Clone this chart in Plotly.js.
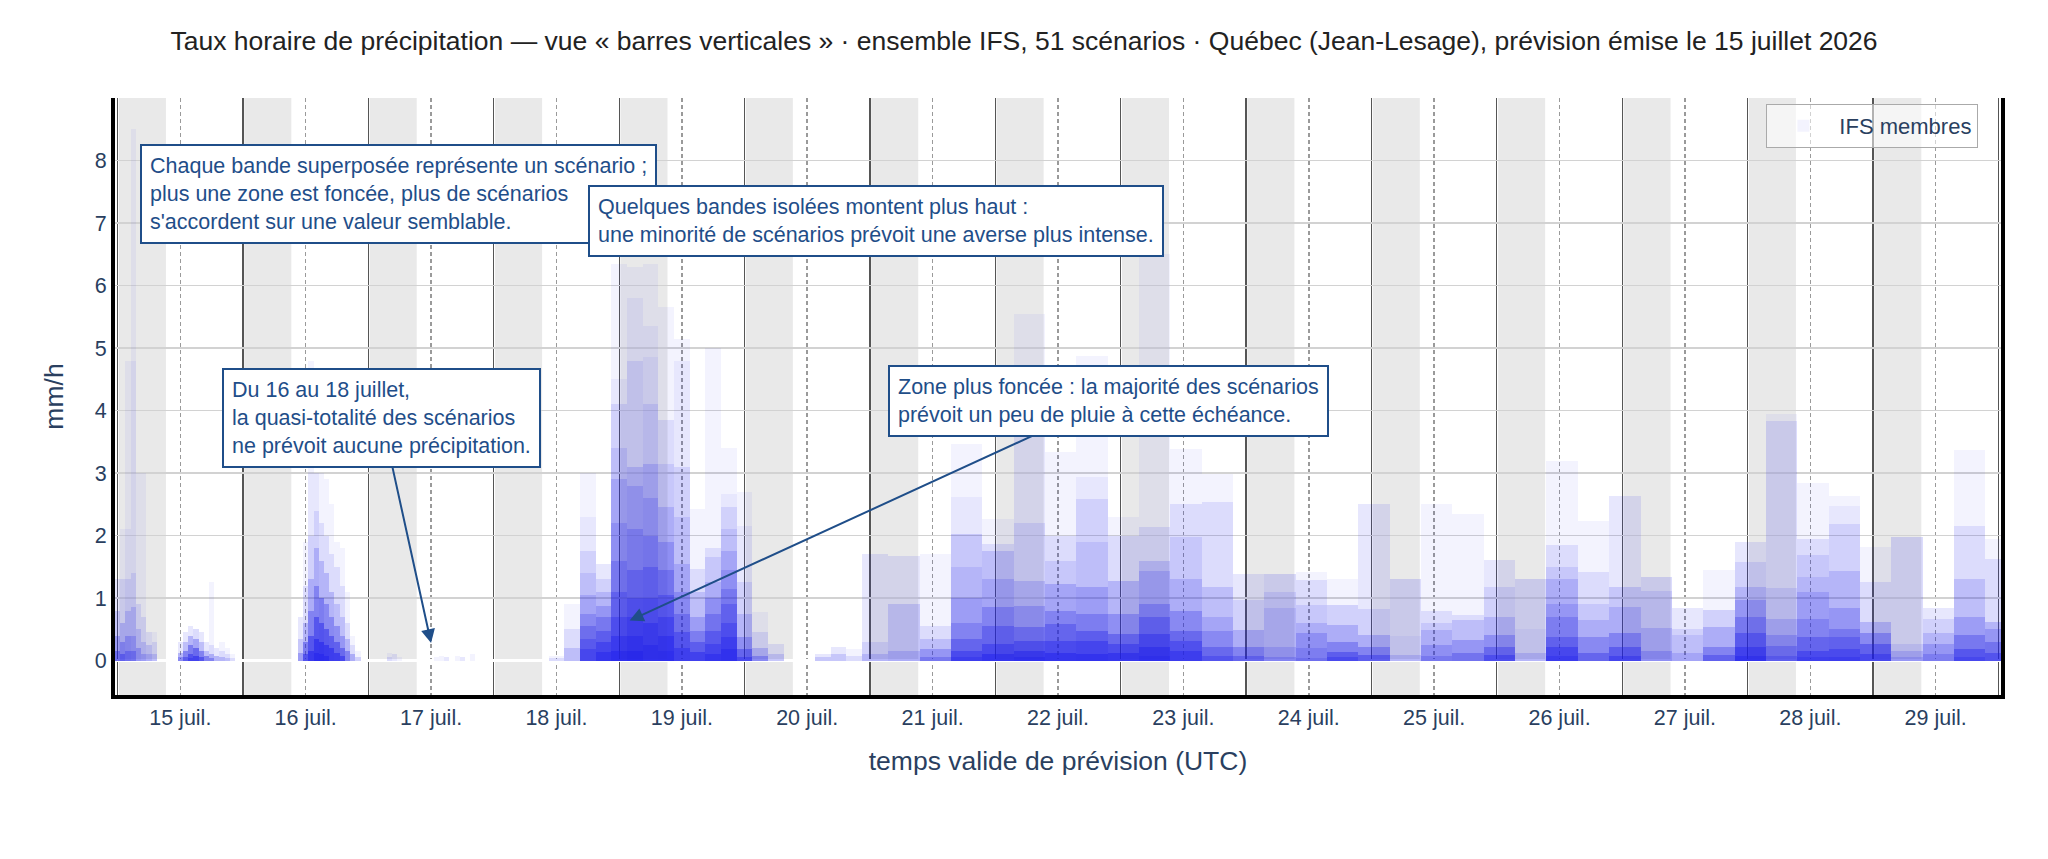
<!DOCTYPE html>
<html>
<head>
<meta charset="utf-8">
<script src="https://cdn.plot.ly/plotly-3.0.1.min.js"></script>
<style>
  html, body { margin: 0; padding: 0; background: #fff; }
  #chart { width: 2048px; height: 859px; }
</style>
</head>
<body>
<div id="chart"></div>
<script>
// forecast issued 15 juillet 2026 00 UTC, 51 IFS members
const ISSUE = Date.UTC(2026, 6, 15, 0, 0, 0);
const HOUR = 3600 * 1000;
const N_MEMBERS = 51;

// hourly steps (hours after issue) that carry rain
// each entry: list of [mm/h, number of scenarios at that value], highest first
const hourSteps = [0, 1, 2, 3, 4, 5, 6, 7,
  12, 13, 14, 15, 16, 17, 18, 19, 20, 21, 22,
  35, 36, 37, 38, 39, 40, 41, 42, 43, 44, 45, 46,
  52, 53, 54, 61, 62, 63, 65, 66, 68];
const hourLevels = [
  [[1.3,2],[0.8,3],[0.4,5],[0.15,8]],
  [[2.1,1],[1.3,2],[0.6,4],[0.3,6],[0.1,8]],
  [[4.8,1],[2.1,1],[1.3,2],[0.8,3],[0.4,5],[0.15,6]],
  [[8.5,1],[4.8,1],[1.4,2],[0.85,3],[0.4,4],[0.15,6]],
  [[3.0,1],[0.9,2],[0.5,3],[0.2,5]],
  [[3.0,1],[0.7,2],[0.3,3],[0.1,4]],
  [[0.45,2],[0.25,3],[0.1,3]],
  [[0.45,1],[0.3,2],[0.1,3]],
  [[0.3,2],[0.12,5],[0.05,6]],
  [[0.45,2],[0.3,4],[0.15,8],[0.05,8]],
  [[0.55,2],[0.4,5],[0.25,8],[0.1,10],[0.04,6]],
  [[0.5,3],[0.35,6],[0.2,10],[0.08,12]],
  [[0.45,2],[0.3,4],[0.15,8],[0.06,10]],
  [[0.3,2],[0.15,4],[0.07,8]],
  [[1.26,1],[0.25,2],[0.1,5],[0.04,6]],
  [[0.2,2],[0.08,5]],
  [[0.3,1],[0.15,2],[0.05,4]],
  [[0.2,1],[0.1,2],[0.04,3]],
  [[0.1,1],[0.04,2]],
  [[0.7,2],[0.35,3],[0.12,5]],
  [[1.9,1],[1.2,2],[0.6,4],[0.3,8],[0.1,10]],
  [[4.8,1],[3.0,1],[2.0,2],[1.3,4],[0.8,6],[0.4,10],[0.15,12]],
  [[3.0,2],[2.4,2],[1.8,4],[1.2,6],[0.7,10],[0.35,12],[0.12,10]],
  [[3.0,1],[2.2,2],[1.6,4],[1.0,8],[0.6,10],[0.3,12],[0.1,10]],
  [[2.9,1],[2.0,2],[1.4,4],[0.9,6],[0.5,10],[0.25,12],[0.08,10]],
  [[2.5,1],[1.7,2],[1.1,4],[0.7,6],[0.4,9],[0.2,12]],
  [[1.9,1],[1.5,2],[0.9,3],[0.55,6],[0.3,9],[0.12,12]],
  [[1.8,1],[1.2,2],[0.7,3],[0.4,5],[0.2,8],[0.08,10]],
  [[1.1,1],[0.6,2],[0.35,4],[0.15,7]],
  [[0.4,1],[0.25,2],[0.1,5]],
  [[0.15,1],[0.06,3]],
  [[0.12,1],[0.05,2]],
  [[0.1,2]],
  [[0.05,1]],
  [[0.05,1]],
  [[0.08,1]],
  [[0.06,2]],
  [[0.08,1]],
  [[0.05,2]],
  [[0.1,1]]
];

// coarser steps (3 h, then 6 h): edges in hours after issue
const stepEdges = [82.5, 85.5, 88.5, 91.5, 94.5, 97.5, 100.5, 103.5, 106.5, 109.5,
  112.5, 115.5, 118.5, 121.5, 124.5, 127.5, 130.5, 133.5, 136.5, 139.5, 142.5,
  147.5, 153.5, 159.5, 165.5, 171.5, 177.5, 183.5, 189.5, 195.5, 201.5, 207.5,
  213.5, 219.5, 225.5, 231.5, 237.5, 243.5, 249.5, 255.5, 261.5, 267.5, 273.5,
  279.5, 285.5, 291.5, 297.5, 303.5, 309.5, 315.5, 321.5, 327.5, 333.5, 339.5,
  345.5, 351.5, 357.5, 360.5];
const stepLevels = [
  [[0.08,1],[0.04,2]],
  [[0.9,1],[0.5,2],[0.2,3]],
  [[3.0,1],[2.3,1],[1.75,2],[1.4,2],[1.05,3],[0.75,4],[0.55,5],[0.35,5],[0.18,6]],
  [[1.55,2],[1.3,2],[1.1,3],[0.88,4],[0.7,5],[0.48,6],[0.3,8],[0.13,8]],
  [[6.35,1],[4.5,1],[4.1,2],[3.4,2],[2.9,3],[2.2,3],[1.6,4],[1.1,5],[0.7,6],[0.4,8],[0.15,10]],
  [[6.3,1],[5.8,1],[4.8,2],[3.1,3],[2.8,3],[2.1,4],[1.45,5],[1.0,6],[0.7,7],[0.4,8],[0.15,9]],
  [[6.35,1],[5.35,1],[4.85,1],[4.1,2],[3.15,3],[2.6,3],[2.0,4],[1.5,5],[1.0,6],[0.6,8],[0.25,9]],
  [[5.65,1],[3.85,2],[3.15,2],[2.45,3],[1.9,4],[1.45,5],[1.05,6],[0.7,7],[0.4,8],[0.15,6]],
  [[5.15,1],[4.8,1],[3.1,2],[2.3,2],[1.55,3],[1.1,4],[0.75,5],[0.45,7],[0.2,8]],
  [[2.43,1],[1.47,2],[1.1,3],[0.7,4],[0.48,5],[0.3,7],[0.13,10]],
  [[5.0,1],[1.8,2],[1.65,2],[1.25,3],[1.0,4],[0.75,5],[0.48,6],[0.27,7],[0.1,8]],
  [[3.4,1],[2.67,1],[2.45,2],[2.1,2],[1.75,3],[1.45,3],[1.15,4],[0.9,5],[0.6,6],[0.37,7],[0.18,8]],
  [[2.7,1],[2.15,1],[1.25,2],[0.75,3],[0.37,5],[0.18,8],[0.06,8]],
  [[0.77,1],[0.45,2],[0.2,4],[0.08,6]],
  [[0.27,2],[0.1,3]],
  [],
  [],
  [[0.11,2],[0.05,3]],
  [[0.21,2],[0.1,3]],
  [[0.19,1],[0.08,2]],
  [[1.71,2],[0.3,2],[0.1,3]],
  // 6 h steps from 21 juil.
  [[1.68,2],[0.9,3],[0.15,3]],
  [[1.71,1],[0.55,2],[0.35,3],[0.18,5],[0.06,5]],
  [[3.47,1],[2.62,1],[2.03,3],[1.5,2],[1.0,3],[0.6,4],[0.35,6],[0.16,8],[0.05,6]],
  [[2.27,1],[1.87,2],[1.75,3],[1.3,3],[0.85,5],[0.55,6],[0.27,8],[0.1,10]],
  [[5.55,1],[3.8,1],[2.2,2],[1.28,3],[0.88,4],[0.53,6],[0.32,8],[0.16,10],[0.05,8]],
  [[3.33,1],[2.0,2],[1.6,2],[1.23,4],[0.8,5],[0.59,6],[0.32,8],[0.12,10]],
  [[4.88,1],[2.93,1],[2.59,2],[1.9,2],[1.17,4],[0.75,5],[0.48,7],[0.32,8],[0.1,10]],
  [[2.29,1],[2.0,2],[1.28,4],[0.75,5],[0.43,7],[0.27,8],[0.12,10]],
  [[6.5,1],[2.13,2],[1.6,3],[1.44,3],[0.91,5],[0.69,6],[0.43,8],[0.21,9],[0.07,6]],
  [[3.39,1],[2.51,2],[1.97,2],[1.3,3],[0.8,5],[0.48,6],[0.32,7],[0.16,8]],
  [[2.99,1],[2.53,2],[1.17,3],[0.7,3],[0.48,4],[0.21,6],[0.08,6]],
  [[1.39,2],[0.97,2],[0.49,4],[0.22,6],[0.08,6]],
  [[1.38,3],[1.1,2],[0.84,2],[0.22,3],[0.06,4]],
  [[1.42,1],[1.29,2],[0.89,2],[0.6,3],[0.44,4],[0.2,3],[0.04,3]],
  [[1.31,1],[0.89,3],[0.57,4],[0.3,6],[0.14,8],[0.05,6]],
  [[2.5,2],[0.82,2],[0.41,4],[0.22,6],[0.09,8]],
  [[1.3,3],[0.4,1],[0.09,3]],
  [[2.51,1],[0.8,2],[0.6,2],[0.49,3],[0.25,4],[0.08,4]],
  [[2.35,1],[0.73,2],[0.65,3],[0.33,5],[0.12,6]],
  [[1.61,2],[1.17,2],[0.7,3],[0.41,5],[0.22,7],[0.09,8]],
  [[1.3,3],[0.5,1],[0.12,3]],
  [[3.19,1],[1.85,2],[1.5,2],[1.31,3],[0.9,3],[0.7,4],[0.38,6],[0.22,8],[0.08,6]],
  [[2.23,1],[1.41,2],[0.9,2],[0.65,3],[0.38,5],[0.12,7]],
  [[2.63,2],[1.18,3],[0.86,3],[0.44,6],[0.22,8],[0.08,8]],
  [[1.34,3],[1.12,2],[0.52,3],[0.16,4]],
  [[0.84,2],[0.5,2],[0.41,2],[0.12,3]],
  [[1.45,1],[0.81,3],[0.54,4],[0.22,6],[0.09,7]],
  [[1.9,2],[1.58,2],[1.18,3],[0.97,4],[0.7,5],[0.44,7],[0.22,9],[0.08,8]],
  [[3.94,1],[3.84,2],[1.16,2],[0.66,3],[0.41,4],[0.23,5],[0.08,5]],
  [[2.84,1],[1.94,2],[1.69,2],[1.34,2],[1.09,3],[0.66,4],[0.37,6],[0.16,8],[0.05,5]],
  [[2.64,1],[2.48,1],[2.18,2],[1.44,3],[0.84,4],[0.5,5],[0.37,5],[0.19,7],[0.06,6]],
  [[1.82,1],[1.26,2],[0.62,4],[0.44,6],[0.26,8],[0.1,8]],
  [[1.98,3],[0.26,2],[0.16,3],[0.05,3]],
  [[0.84,2],[0.66,2],[0.44,3],[0.26,4],[0.1,4]],
  [[3.37,1],[2.16,2],[1.3,3],[0.69,4],[0.41,6],[0.19,8],[0.06,5]],
  [[1.94,1],[1.62,2],[0.62,4],[0.51,4],[0.3,6],[0.12,8]]
];

// x axis labels, one per day (placed at 12 UTC)
const tickDays = [15, 16, 17, 18, 19, 20, 21, 22, 23, 24, 25, 26, 27, 28, 29];
const tickLabels = ['15 juil.', '16 juil.', '17 juil.', '18 juil.', '19 juil.', '20 juil.',
  '21 juil.', '22 juil.', '23 juil.', '24 juil.', '25 juil.', '26 juil.', '27 juil.',
  '28 juil.', '29 juil.'];
const yTicks = [0, 1, 2, 3, 4, 5, 6, 7, 8];

const MEMBER_COLOR = 'rgba(45,45,235,0.055)';
const NOTE_COLOR = '#1f4e89';
const FONT = 'Liberation Sans, Arial, sans-serif';

// hours after issue -> plotly date string
function t(h) {
  const d = new Date(ISSUE + h * HOUR);
  return d.toISOString().slice(0, 23).replace('T', ' ');
}
function dayHour(day, hour) {
  return (day - 15) * 24 + hour;
}

// expand [value, count] pairs into 51 member values, highest first
function expandLevels(levels) {
  const vals = [];
  levels.forEach(([v, n]) => { for (let i = 0; i < n; i++) vals.push(v); });
  while (vals.length < N_MEMBERS) vals.push(0);
  return vals.slice(0, N_MEMBERS);
}

const blocks = [];
hourSteps.forEach((h, i) => blocks.push({ from: h - 0.5, to: h + 0.5, levels: hourLevels[i] }));
for (let i = 0; i < stepEdges.length - 1; i++) {
  blocks.push({ from: stepEdges[i], to: stepEdges[i + 1], levels: stepLevels[i] });
}

const memberVals = blocks.map(b => expandLevels(b.levels));
const xs = blocks.map(b => t((b.from + b.to) / 2));
const widths = blocks.map(b => (b.to - b.from) * HOUR);

const data = [];
for (let m = 0; m < N_MEMBERS; m++) {
  data.push({
    type: 'bar',
    x: xs,
    y: memberVals.map(v => v[m]),
    width: widths,
    name: 'IFS membres',
    legendgroup: 'ifs',
    showlegend: m === 0,
    marker: { color: MEMBER_COLOR, line: { width: 0 } },
    hoverinfo: 'skip'
  });
}

// night bands (grey)
const shapes = [];
tickDays.forEach(d => {
  shapes.push({
    type: 'rect', xref: 'x', yref: 'paper', layer: 'below',
    x0: t(dayHour(d, 0.25)), x1: t(dayHour(d, 9.25)), y0: 0, y1: 1,
    fillcolor: '#e9e9e9', line: { width: 0 }
  });
});

const annotations = [
  {
    xref: 'paper', yref: 'paper', x: 0.0133, y: 0.923, xanchor: 'left', yanchor: 'top',
    showarrow: false, align: 'left',
    text: 'Chaque bande superposée représente un scénario ;<br>plus une zone est foncée, plus de scénarios<br>s\'accordent sur une valeur semblable.'
  },
  {
    xref: 'paper', yref: 'paper', x: 0.2508, y: 0.854, xanchor: 'left', yanchor: 'top',
    showarrow: false, align: 'left',
    text: 'Quelques bandes isolées montent plus haut :<br>une minorité de scénarios prévoit une averse plus intense.'
  },
  {
    xref: 'x', yref: 'y', x: t(60), y: 0.28, ax: -49.5, ay: -225.5,
    showarrow: true, align: 'left',
    text: 'Du 16 au 18 juillet,<br>la quasi-totalité des scénarios<br>ne prévoit aucune précipitation.'
  },
  {
    xref: 'x', yref: 'y', x: t(98), y: 0.64, ax: 478.5, ay: -219.5,
    showarrow: true, align: 'left',
    text: 'Zone plus foncée : la majorité des scénarios<br>prévoit un peu de pluie à cette échéance.'
  }
].map(a => Object.assign({
  font: { family: FONT, size: 21.5, color: NOTE_COLOR },
  bgcolor: '#ffffff', bordercolor: NOTE_COLOR, borderwidth: 2, borderpad: 8,
  arrowcolor: NOTE_COLOR, arrowwidth: 2, arrowhead: 2, arrowsize: 1.4
}, a));

const layout = {
  width: 2048, height: 859,
  margin: { l: 115, r: 47, t: 98, b: 164 },
  paper_bgcolor: '#ffffff', plot_bgcolor: '#ffffff',
  font: { family: FONT, size: 21.5, color: '#2a3f5f' },
  title: {
    text: 'Taux horaire de précipitation — vue « barres verticales » · ensemble IFS, 51 scénarios · Québec (Jean-Lesage), prévision émise le 15 juillet 2026',
    font: { family: FONT, size: 26.5, color: '#222222' },
    x: 0.5, xanchor: 'center', yref: 'container', y: 0.953, yanchor: 'middle'
  },
  barmode: 'overlay',
  bargap: 0,
  showlegend: true,
  legend: {
    x: 0.988, y: 0.99, xanchor: 'right', yanchor: 'top',
    itemwidth: 62,
    bgcolor: 'rgba(255,255,255,0.55)', bordercolor: '#aaaaaa', borderwidth: 1,
    font: { family: FONT, size: 22, color: '#2a3f5f' }
  },
  xaxis: {
    type: 'date',
    range: [t(-0.5), t(360.5)],
    tickmode: 'array',
    tickvals: tickDays.map(d => t(dayHour(d, 12))),
    ticktext: tickLabels,
    ticks: '',
    showgrid: true, gridcolor: '#9a9a9a', gridwidth: 1.5, griddash: '4px,3px',
    minor: {
      tickmode: 'array',
      tickvals: tickDays.concat([30]).map(d => t(dayHour(d, 0))),
      showgrid: true, gridcolor: '#555555', gridwidth: 1.3, griddash: 'solid', ticks: ''
    },
    showline: true, linecolor: '#000000', linewidth: 4,
    zeroline: false,
    tickfont: { size: 21.5, color: '#2a3f5f' },
    title: { text: 'temps valide de prévision (UTC)', font: { size: 26.5, color: '#2a3f5f' }, standoff: 24 }
  },
  yaxis: {
    range: [-0.55, 9],
    tickmode: 'array',
    tickvals: yTicks,
    ticktext: yTicks.map(String),
    ticks: '',
    showgrid: true, gridcolor: '#d2d2d2', gridwidth: 1.2,
    zeroline: true, zerolinecolor: '#ffffff', zerolinewidth: 3,
    showline: true, linecolor: '#000000', linewidth: 4, mirror: true,
    tickfont: { size: 21.5, color: '#2a3f5f' },
    title: { text: 'mm/h', font: { size: 26.5, color: '#2a3f5f' }, standoff: 24 }
  },
  shapes: shapes,
  annotations: annotations
};

Plotly.newPlot('chart', data, layout, { displayModeBar: false, staticPlot: true });
</script>
</body>
</html>
